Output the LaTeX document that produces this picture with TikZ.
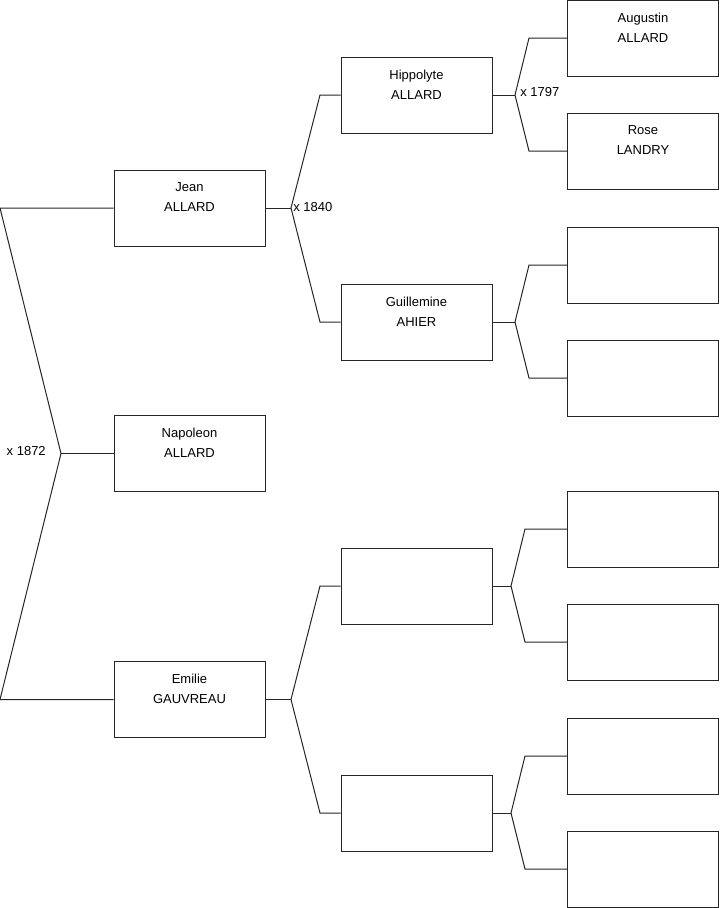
\documentclass[tikz,border=0pt]{standalone}
\usepackage{fontspec}
\setmainfont{Liberation Sans}
\begin{document}
\begin{tikzpicture}[
  x=0.75pt,y=-0.75pt,
  person/.style={rectangle,draw=black!85,line width=0.75pt,
    minimum width=113.25pt,minimum height=57pt,inner sep=0pt},
  who/.style={anchor=north,align=center,inner sep=0pt,yshift=-9.75pt,
    font=\fontsize{9.75}{15}\selectfont},
  link/.style={draw=black!85,line width=0.75pt},
  wed/.style={inner sep=0pt,font=\fontsize{9.75}{12}\selectfont}]

  \useasboundingbox (0,0) rectangle (719,908);

  % children
  \node[person,label={[who]north:Jean\\ALLARD}] (jean) at (189.5,208) {};
  \node[person,label={[who]north:Napoleon\\ALLARD}] (napoleon) at (189.5,453.5) {};
  \node[person,label={[who]north:Emilie\\GAUVREAU}] (emilie) at (189.5,699.5) {};

  % grandparents
  \node[person,label={[who]north:Hippolyte\\ALLARD}] (hippolyte) at (416.5,95) {};
  \node[person,label={[who]north:Guillemine\\AHIER}] (guillemine) at (416.5,322) {};
  \node[person] (gp3) at (416.5,586) {};
  \node[person] (gp4) at (416.5,813) {};

  % great-grandparents
  \node[person,label={[who]north:Augustin\\ALLARD}] (augustin) at (643,38) {};
  \node[person,label={[who]north:Rose\\LANDRY}] (rose) at (643,151) {};
  \node[person] (ggp3) at (643,265) {};
  \node[person] (ggp4) at (643,378) {};
  \node[person] (ggp5) at (643,529) {};
  \node[person] (ggp6) at (643,642) {};
  \node[person] (ggp7) at (643,756) {};
  \node[person] (ggp8) at (643,869) {};

  % junctions
  \coordinate (m0) at (61,453.5);
  \coordinate (m1) at (291,208);
  \coordinate (m2) at (291,699.5);
  \coordinate (m3) at (515,95);
  \coordinate (m4) at (515,322);
  \coordinate (m5) at (511,586);
  \coordinate (m6) at (511,813);

  \draw[link] (napoleon.west) -- (m0);
  \draw[link] (jean.west) -- (0,208) -- (m0) -- (0,699.5) -- (emilie.west);

  \draw[link] (jean.east) -- (m1);
  \draw[link] (hippolyte.west) -- (320,95) -- (m1) -- (320,322) -- (guillemine.west);
  \draw[link] (emilie.east) -- (m2);
  \draw[link] (gp3.west) -- (320,586) -- (m2) -- (320,813) -- (gp4.west);

  \draw[link] (hippolyte.east) -- (m3);
  \draw[link] (augustin.west) -- (529,38) -- (m3) -- (529,151) -- (rose.west);
  \draw[link] (guillemine.east) -- (m4);
  \draw[link] (ggp3.west) -- (529,265) -- (m4) -- (529,378) -- (ggp4.west);
  \draw[link] (gp3.east) -- (m5);
  \draw[link] (ggp5.west) -- (525,529) -- (m5) -- (525,642) -- (ggp6.west);
  \draw[link] (gp4.east) -- (m6);
  \draw[link] (ggp7.west) -- (525,756) -- (m6) -- (525,869) -- (ggp8.west);

  % marriage years
  \node[wed,anchor=east] (w0) at (46,451) {x 1872};
  \node[wed,anchor=west] (w1) at (293,207) {x 1840};
  \node[wed,anchor=west] (w3) at (520,92) {x 1797};
\end{tikzpicture}
\end{document}
